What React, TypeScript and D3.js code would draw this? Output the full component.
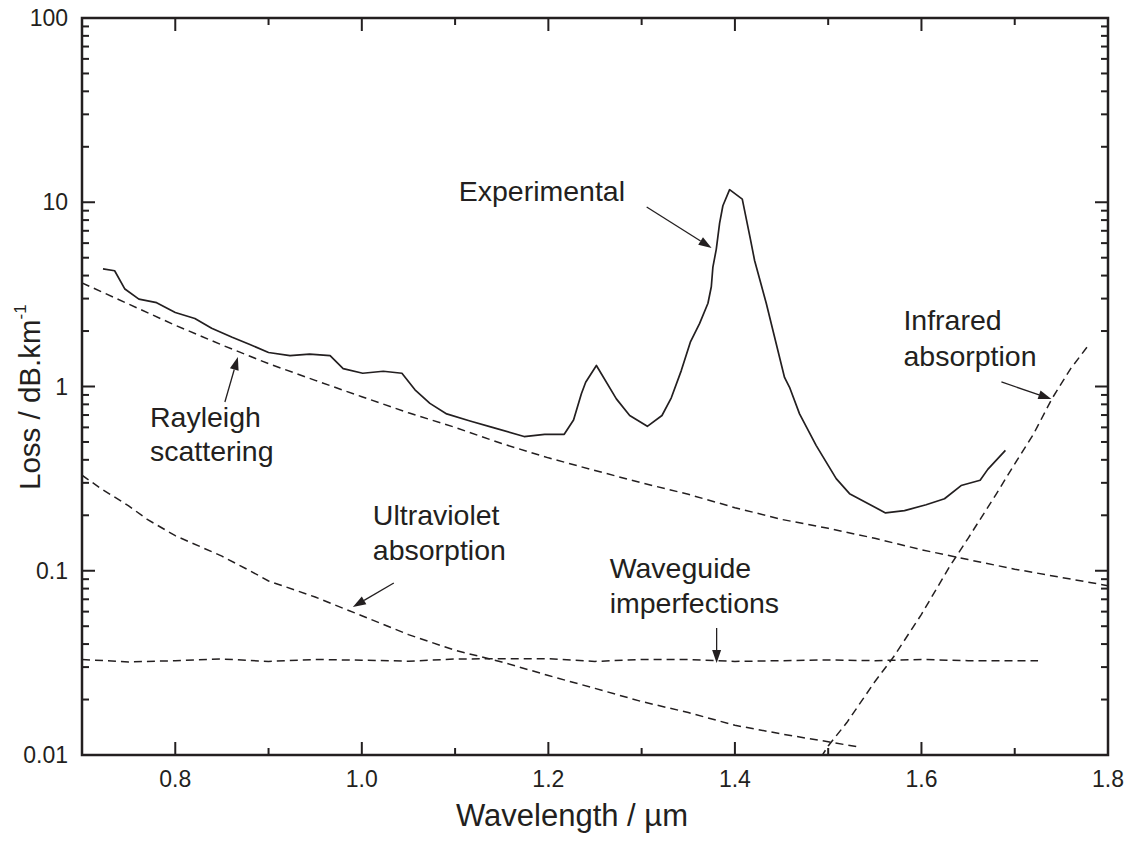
import React from "react";
import * as d3 from "d3";

// ---- Data (wavelength in µm, loss in dB/km) ----
const experimental: [number, number][] = [
  [0.7225, 4.35], [0.735, 4.25], [0.746, 3.38], [0.761, 2.98], [0.78, 2.85],
  [0.8, 2.52], [0.821, 2.34], [0.839, 2.07], [0.861, 1.85], [0.88, 1.69],
  [0.9, 1.53], [0.923, 1.47], [0.944, 1.5], [0.966, 1.47], [0.98, 1.25],
  [1.001, 1.18], [1.023, 1.21], [1.043, 1.18], [1.057, 0.96], [1.073, 0.81],
  [1.091, 0.71], [1.116, 0.65], [1.14, 0.6], [1.174, 0.535], [1.196, 0.55],
  [1.217, 0.55], [1.227, 0.658], [1.2354, 0.913], [1.24, 1.055], [1.2515, 1.3],
  [1.2729, 0.857], [1.2872, 0.696], [1.3061, 0.608], [1.3218, 0.696], [1.3318, 0.868],
  [1.3425, 1.22], [1.3522, 1.74], [1.3622, 2.2], [1.3711, 2.83], [1.3747, 3.48],
  [1.3764, 4.45], [1.38, 5.55], [1.3836, 7.7], [1.3871, 9.57], [1.3943, 11.7],
  [1.4079, 10.4], [1.4165, 6.35], [1.4211, 4.83], [1.4336, 2.83], [1.4532, 1.12],
  [1.4586, 0.99], [1.4693, 0.71], [1.4872, 0.478], [1.5086, 0.316], [1.5229, 0.262],
  [1.5615, 0.206], [1.5818, 0.212], [1.605, 0.228], [1.6247, 0.246], [1.6425, 0.29],
  [1.6629, 0.31], [1.6711, 0.355], [1.69, 0.45],
];

const rayleigh: [number, number][] = [
  [0.7, 3.65], [0.75, 2.8], [0.8, 2.15], [0.85, 1.68], [0.9, 1.33], [0.95, 1.08],
  [1.0, 0.88], [1.05, 0.72], [1.1, 0.6], [1.15, 0.49], [1.2, 0.41], [1.25, 0.35],
  [1.3, 0.3], [1.35, 0.26], [1.4, 0.22], [1.45, 0.19], [1.5, 0.17], [1.55, 0.15],
  [1.6, 0.13], [1.65, 0.115], [1.7, 0.102], [1.75, 0.092], [1.8, 0.083],
];

const ultraviolet: [number, number][] = [
  [0.7, 0.33], [0.72, 0.28], [0.75, 0.225], [0.77, 0.19], [0.8, 0.155], [0.85, 0.12],
  [0.88, 0.1], [0.9, 0.088], [0.95, 0.072], [1.0, 0.057], [1.05, 0.045], [1.1, 0.037],
  [1.15, 0.032], [1.2, 0.027], [1.25, 0.023], [1.3, 0.0195], [1.35, 0.017],
  [1.4, 0.0145], [1.45, 0.013], [1.5, 0.0118], [1.535, 0.011],
];

const waveguide: [number, number][] = [
  [0.7, 0.033], [0.75, 0.032], [0.8, 0.0325], [0.85, 0.0332], [0.9, 0.0322],
  [0.95, 0.033], [1.0, 0.0327], [1.05, 0.0323], [1.1, 0.0332], [1.15, 0.0333],
  [1.2, 0.0333], [1.25, 0.0322], [1.3, 0.033], [1.35, 0.033], [1.4, 0.0322],
  [1.45, 0.0325], [1.5, 0.0328], [1.55, 0.0325], [1.6, 0.033], [1.65, 0.0325],
  [1.7, 0.0325], [1.725, 0.0325],
];

const infrared: [number, number][] = [
  [1.485, 0.0085], [1.5, 0.0112], [1.52, 0.015], [1.55, 0.025], [1.57, 0.034],
  [1.6, 0.058], [1.63, 0.105], [1.65, 0.15], [1.68, 0.26], [1.7, 0.38],
  [1.72, 0.55], [1.74, 0.86], [1.76, 1.25], [1.78, 1.7],
];

const xMajorTicks = [0.8, 1.0, 1.2, 1.4, 1.6, 1.8];
const xMinorTicks = [0.9, 1.1, 1.3, 1.5, 1.7];
const xTickLabels = ["0.8", "1.0", "1.2", "1.4", "1.6", "1.8"];
const yMajorTicks = [0.01, 0.1, 1, 10, 100];
const yTickLabels = ["0.01", "0.1", "1", "10", "100"];

type Annot = { lines: string[]; text: [number, number]; second: [number, number]; tail: [number, number]; tip: [number, number] };
const annotations: Annot[] = [
  { lines: ["Experimental"], text: [1.1039, 10.16], second: [1.1039, 10.16], tail: [1.3054, 9.42], tip: [1.375, 5.65] },
  { lines: ["Rayleigh", "scattering"], text: [0.7729, 0.606], second: [0.7729, 0.392], tail: [0.8532, 0.824], tip: [0.8671, 1.446] },
  { lines: ["Ultraviolet", "absorption"], text: [1.0118, 0.1771], second: [1.0118, 0.1143], tail: [1.0343, 0.0858], tip: [0.9904, 0.0636] },
  { lines: ["Waveguide", "imperfections"], text: [1.2657, 0.0913], second: [1.2657, 0.059], tail: [1.3804, 0.0489], tip: [1.3804, 0.03157] },
  { lines: ["Infrared", "absorption"], text: [1.5807, 2.026], second: [1.5807, 1.292], tail: [1.6857, 1.058], tip: [1.7393, 0.855] },
];

const W = 1132, H = 843;
const left = 82, top = 18, right = 1108, bottom = 755;
const ink = "#231f20";
const font = "'Liberation Sans', Arial, Helvetica, sans-serif";

export default function App() {
  const x = d3.scaleLinear().domain([0.7, 1.8]).range([left, right]);
  const y = d3.scaleLog().domain([0.01, 100]).range([bottom, top]);
  const line = d3.line<[number, number]>().x((d) => x(d[0])).y((d) => y(d[1]));
  const yAll = y.ticks();
  const isMajor = (v: number) => Math.abs(Math.log10(v) - Math.round(Math.log10(v))) < 1e-6;
  const dash = "8,5";

  const arrow = (a: Annot, i: number) => {
    const x1 = x(a.tail[0]), y1 = y(a.tail[1]);
    const x2 = x(a.tip[0]), y2 = y(a.tip[1]);
    const ang = Math.atan2(y2 - y1, x2 - x1);
    const L = 13, hw = 4.5;
    const bx = x2 - L * Math.cos(ang), by = y2 - L * Math.sin(ang);
    const p1 = [bx + hw * Math.sin(ang), by - hw * Math.cos(ang)];
    const p2 = [bx - hw * Math.sin(ang), by + hw * Math.cos(ang)];
    return (
      <g key={"a" + i}>
        <line x1={x1} y1={y1} x2={bx} y2={by} stroke={ink} strokeWidth={1.3} />
        <polygon points={`${x2},${y2} ${p1[0]},${p1[1]} ${p2[0]},${p2[1]}`} fill={ink} />
      </g>
    );
  };

  return (
    <svg width={W} height={H} style={{ position: "absolute", left: 0, top: 0, background: "#fff" }} fontFamily={font}>
      <defs>
        <clipPath id="plot">
          <rect x={left} y={top} width={right - left} height={bottom - top} />
        </clipPath>
      </defs>
      <rect x={0} y={0} width={W} height={H} fill="#fff" />
      <g clipPath="url(#plot)" fill="none" stroke={ink}>
        <path d={line(rayleigh) || ""} strokeWidth={1.5} strokeDasharray={dash} />
        <path d={line(ultraviolet) || ""} strokeWidth={1.5} strokeDasharray={dash} />
        <path d={line(waveguide) || ""} strokeWidth={1.5} strokeDasharray={dash} />
        <path d={line(infrared) || ""} strokeWidth={1.5} strokeDasharray={dash} />
        <path d={line(experimental) || ""} strokeWidth={1.7} strokeLinejoin="round" />
      </g>

      {/* frame */}
      <rect x={left} y={top} width={right - left} height={bottom - top} fill="none" stroke={ink} strokeWidth={2.5} />

      {/* x ticks */}
      {xMajorTicks.map((v) => (
        <g key={"xm" + v} stroke={ink} strokeWidth={2}>
          <line x1={x(v)} x2={x(v)} y1={bottom} y2={bottom - 13} />
          <line x1={x(v)} x2={x(v)} y1={top} y2={top + 13} />
        </g>
      ))}
      {xMinorTicks.map((v) => (
        <g key={"xn" + v} stroke={ink} strokeWidth={2}>
          <line x1={x(v)} x2={x(v)} y1={bottom} y2={bottom - 7} />
          <line x1={x(v)} x2={x(v)} y1={top} y2={top + 7} />
        </g>
      ))}
      {xMajorTicks.map((v, i) => (
        <text key={"xl" + v} x={x(v)} y={bottom + 32} textAnchor="middle" fontSize={23} fill={ink}>
          {xTickLabels[i]}
        </text>
      ))}

      {/* y ticks */}
      {yAll.map((v) => {
        const len = isMajor(v) ? 13 : 7;
        return (
          <g key={"y" + v} stroke={ink} strokeWidth={2}>
            <line x1={left} x2={left + len} y1={y(v)} y2={y(v)} />
            <line x1={right} x2={right - len} y1={y(v)} y2={y(v)} />
          </g>
        );
      })}
      {yMajorTicks.map((v, i) => (
        <text key={"yl" + v} x={68} y={y(v) + 8} textAnchor="end" fontSize={23} fill={ink}>
          {yTickLabels[i]}
        </text>
      ))}

      {/* axis titles */}
      <text x={572} y={826} textAnchor="middle" fontSize={31} fill={ink}>
        Wavelength / µm
      </text>
      <text transform="translate(40,490) rotate(-90)" textAnchor="start" fontSize={29.5} fill={ink}>
        Loss / dB.km<tspan fontSize={17} dy={-14}>-1</tspan>
      </text>

      {/* annotations */}
      {annotations.map((a, i) => (
        <g key={"t" + i}>
          <text x={x(a.text[0])} y={y(a.text[1])} fontSize={28.5} fill={ink}>
            {a.lines[0]}
          </text>
          {a.lines[1] && (
            <text x={x(a.second[0])} y={y(a.second[1])} fontSize={28.5} fill={ink}>
              {a.lines[1]}
            </text>
          )}
          {arrow(a, i)}
        </g>
      ))}
    </svg>
  );
}
